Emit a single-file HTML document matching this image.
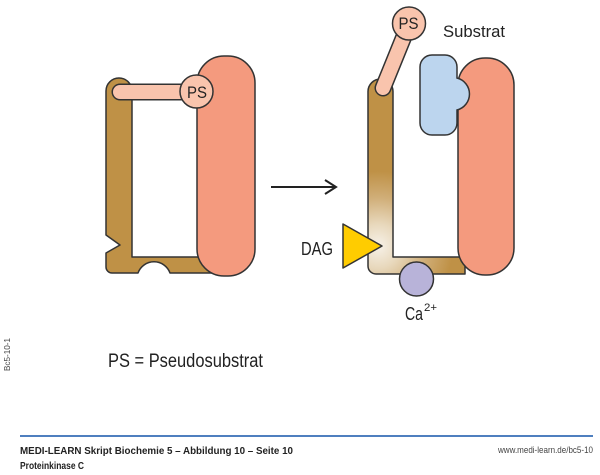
<!DOCTYPE html>
<html>
<head>
<meta charset="utf-8">
<style>
  html,body{margin:0;padding:0;background:#fff;}
  svg{display:block;}
  text{font-family:"Liberation Sans Narrow","Liberation Sans",sans-serif;fill:#222;}
</style>
</head>
<body>
<svg width="600" height="475" viewBox="0 0 600 475" xmlns="http://www.w3.org/2000/svg">
  <defs>
    <radialGradient id="bg" gradientUnits="userSpaceOnUse" cx="378" cy="246" r="88">
      <stop offset="0" stop-color="#f7f2e9"/>
      <stop offset="0.25" stop-color="#e8d8bc"/>
      <stop offset="0.55" stop-color="#d0ae78"/>
      <stop offset="0.85" stop-color="#bf9146"/>
      <stop offset="1" stop-color="#bf9146"/>
    </radialGradient>
  </defs>

  <!-- LEFT FIGURE -->
  <path d="M106,91 A13,13 0 0 1 132,91 V257 H215 V273 H170 A17,17 0 0 0 138,273 H112 A6,6 0 0 1 106,267 V253 L120,245 L106,235 Z"
        fill="#bf9146" stroke="#333" stroke-width="1.5" stroke-linejoin="round"/>
  <rect x="197" y="56" width="58" height="220" rx="27" ry="27" fill="#f49a7e" stroke="#333" stroke-width="1.5"/>
  <line x1="120" y1="92" x2="196" y2="92" stroke="#333" stroke-width="17" stroke-linecap="round"/>
  <line x1="120" y1="92" x2="196" y2="92" stroke="#f9c4ad" stroke-width="14" stroke-linecap="round"/>
  <circle cx="196.5" cy="91.5" r="16.5" fill="#f9c4ad" stroke="#333" stroke-width="1.5"/>
  <text x="187" y="98" font-size="17" textLength="20" lengthAdjust="spacingAndGlyphs">PS</text>

  <!-- ARROW -->
  <line x1="271" y1="187" x2="335" y2="187" stroke="#222" stroke-width="2"/>
  <polyline points="325,180 336,187 325,194" fill="none" stroke="#222" stroke-width="2"/>

  <!-- RIGHT FIGURE -->
  <path d="M368,91.5 A12.5,12.5 0 0 1 393,91.5 V257 H465 V274 H376 A8,8 0 0 1 368,266 Z"
        fill="url(#bg)" stroke="#333" stroke-width="1.5" stroke-linejoin="round"/>
  <rect x="458" y="58" width="56" height="217" rx="27" ry="27" fill="#f49a7e" stroke="#333" stroke-width="1.5"/>
  <path d="M432,55 H445 A12,12 0 0 1 457,67 V78 A16.5,16.5 0 0 1 457,110 V123 A12,12 0 0 1 445,135 H432 A12,12 0 0 1 420,123 V67 A12,12 0 0 1 432,55 Z"
        fill="#bcd5ee" stroke="#333" stroke-width="1.5"/>
  <line x1="383" y1="88" x2="409" y2="24" stroke="#333" stroke-width="17" stroke-linecap="round"/>
  <line x1="383" y1="88" x2="409" y2="24" stroke="#f9c4ad" stroke-width="14" stroke-linecap="round"/>
  <circle cx="409" cy="23.5" r="16.5" fill="#f9c4ad" stroke="#333" stroke-width="1.5"/>
  <text x="398.5" y="29" font-size="17" textLength="20" lengthAdjust="spacingAndGlyphs">PS</text>
  <text x="443" y="37" font-size="17" textLength="62" lengthAdjust="spacingAndGlyphs">Substrat</text>

  <polygon points="343,224 343,268 382,246" fill="#ffcc00" stroke="#333" stroke-width="1.5" stroke-linejoin="round"/>
  <text x="301" y="255" font-size="18" textLength="32" lengthAdjust="spacingAndGlyphs">DAG</text>

  <circle cx="416.5" cy="279" r="17" fill="#b8b3d9" stroke="#333" stroke-width="1.5"/>
  <text x="405" y="320" font-size="18" textLength="18" lengthAdjust="spacingAndGlyphs">Ca</text>
  <text x="424" y="311" font-size="11" textLength="13" lengthAdjust="spacingAndGlyphs">2+</text>

  <!-- LEGEND -->
  <text x="108" y="367" font-size="19" textLength="155" lengthAdjust="spacingAndGlyphs">PS = Pseudosubstrat</text>
  <text transform="translate(10,371) rotate(-90)" x="0" y="0" font-size="8" textLength="33" lengthAdjust="spacingAndGlyphs" style="fill:#444">Bc5-10-1</text>

  <!-- FOOTER -->
  <line x1="20" y1="436" x2="593" y2="436" stroke="#4f7fbf" stroke-width="2"/>
  <text x="20" y="454" font-size="10" font-weight="bold" textLength="273" lengthAdjust="spacingAndGlyphs" style="font-family:'Liberation Sans',sans-serif">MEDI-LEARN Skript Biochemie 5 – Abbildung 10 – Seite 10</text>
  <text x="20" y="469" font-size="10" font-weight="bold" textLength="64" lengthAdjust="spacingAndGlyphs" style="font-family:'Liberation Sans',sans-serif">Proteinkinase C</text>
  <text x="498" y="453" font-size="9.5" textLength="95" lengthAdjust="spacingAndGlyphs" style="font-family:'Liberation Sans',sans-serif;fill:#444">www.medi-learn.de/bc5-10</text>
</svg>
</body>
</html>
